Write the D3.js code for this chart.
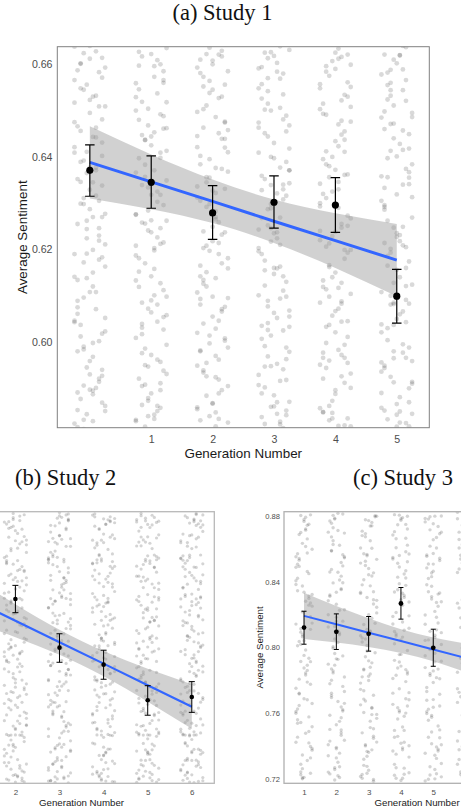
<!DOCTYPE html>
<html>
<head>
<meta charset="utf-8">
<script src="https://cdn.jsdelivr.net/npm/d3@7"></script>
<style>
  html, body { margin: 0; padding: 0; background: #fff; overflow: hidden; }
  svg { display: block; }
</style>
</head>
<body>
<svg id="fig" width="461" height="811"></svg>
<script>
// ---------------- Study 1 ----------------
const gensA   = [0, 1, 2, 3, 4, 5];
const meanA   = [0.6371, 0.6345, 0.6279, 0.6302, 0.6296, 0.6099];
const lowA    = [0.6315, 0.6289, 0.6222, 0.6246, 0.6237, 0.6041];
const highA   = [0.6426, 0.6402, 0.6338, 0.6359, 0.6355, 0.6157];
const fitA    = [0.6388, 0.6346, 0.6304, 0.6261, 0.6219, 0.6177];
const fitLoA  = [0.6310, 0.6287, 0.6257, 0.6214, 0.6160, 0.6099];
const fitHiA  = [0.6466, 0.6405, 0.6351, 0.6308, 0.6278, 0.6255];
const xTicksA = [1, 2, 3, 4, 5];
const yTicksA = [0.60, 0.62, 0.64, 0.66];
// individual responses per generation: jitter letter (g = centre, 0.05 per step) + sentiment x 10^4
const rawA = [
  "g6612 c6587 k6431 e6298 h6150 b6043 j5921 d5877 i6532 f6365 l6211 c6089 h5968 e5832 k6614 b6475 g6329 j6178 d6012 i5901 f6556 k6402 c6255 h6120 e5990 l5851 b6638 g6495 d6346 j6230 i6071 f5945 c5816 k6571 h6443 e6311 b6190 l6052 g5930 d6601 j6509 i6377 f6262 c6134 k6018 h5887 e6545 b6421 g6287 l6163 d6037 j5914 f5844 i6628 c6466 k6338 h6199 e6096 g5959 b5824 l6593 d6456 j6305 f6244 i6108 c5980 k5869 g6523 e6392 h6270 " +
  "j6583 d6548 b6409 i6371 f6224 k6183 c6061 h5998 e5906 l5862 g6640 b6517 i6442 d6299 k6270 f6138 j6002 c5891 h5829 e6624 l6509 g6377 c6352 j6219 e6172 b6046 k5927 h5895 d6602 i6463 f6411 l6277 b6141 g6108 e5984 k5940 c5853 j6656 h6530 d6389 i6316 f6191 c6075 l6023 g5897 e5812 b6566 k6481 h6345 j6246",
  "h6644 d6519 j6398 b6276 g6142 k6027 e5908 i5851 c6597 l6462 f6334 h6203 d6085 j5957 b5829 g6622 k6488 e6357 i6226 c6119 l5994 f5873 h6573 d6447 j6318 b6187 g6064 k5938 e5817 i6609 c6480 l6349 f6241 h6101 d5976 j5858 b6559 g6425 k6296 e6170 i6044 c5921 l6635 f6504 h6371 d6258 j6127 b6009 g5889 k6585 e6436 i6303 c6181 l6058 f5947 h5834 d6617 j6492 b6366 g6237 k6112 e5986 i5862 c6546 l6413 f6284 h6158 d6031 j5911 b6529 " +
  "c6627 k6560 e6437 j6409 g6263 b6208 l6098 d6039 i5962 f5879 h5843 e6651 b6500 k6461 g6318 j6246 c6152 f6072 l5931 d5905 h6596 i6537 e6383 b6275 k6215 g6090 d6017 j5896 f5840 c6655 l6518 h6453 i6325 e6256 b6133 k6054 g5972 d5864 j6600 f6468 c6397 l6262 h6198 i6081 e5950 b5832 k6566 g6444 d6339 j6212",
  "f6651 j6530 c6402 h6283 l6159 d6040 i5919 b5855 g6608 k6474 e6345 i6214 c6093 h5970 f5840 j6629 b6497 l6368 g6249 d6126 k6003 e5884 c6581 i6451 h6322 f6197 j6071 b5949 l5826 g6600 d6463 k6331 e6208 c6081 i5962 h5848 f6564 j6439 b6312 l6181 g6055 d5934 k6643 e6511 c6384 i6259 h6138 f6014 j5896 b6593 l6458 g6327 d6203 k6076 e5955 c5831 i6621 h6486 f6355 j6232 b6107 l5988 g5868 d6552 k6420 e6292 c6165 i6046 h5924 f6538 " +
  "e6622 k6556 b6421 h6376 d6239 j6170 g6098 c5982 l5905 i5834 f6636 d6503 k6439 b6336 h6270 e6151 j6066 c5980 g5867 l6585 i6527 f6395 c6305 k6237 e6120 h6029 d5939 b5859 j6617 g6545 l6410 f6298 i6190 c6142 k6008 e5926 h5818 d6573 b6445 j6374 g6218 l6095 f5997 i5889 c6610 k6476 e6356 h6265 d6134 b6020",
  "i6639 e6515 k6389 c6268 g6147 j6025 d5902 h5845 b6591 l6468 f6339 i6210 e6089 k5963 c5838 g6618 j6481 d6352 h6224 b6101 l5979 f5860 i6569 e6444 k6316 c6190 g6063 j5941 d5823 h6603 b6474 l6343 f6217 i6094 e5969 k5852 c6557 g6430 j6308 d6176 h6052 b5929 l6631 f6500 i6377 e6252 k6130 c6007 g5885 j6580 d6451 h6321 b6196 l6068 f5948 i5828 e6613 k6489 c6359 g6235 j6111 d5991 h5870 b6548 l6418 f6289 i6163 e6041 k5918 c6526 " +
  "d6625 j6535 f6400 l6371 b6243 h6159 e6077 k5988 c5889 i5822 g6650 e6542 b6409 j6330 f6246 d6122 l6055 h5953 k5842 c6594 i6506 g6397 e6287 b6203 j6142 f6014 d5947 l5871 h6584 k6455 c6328 i6269 g6160 e6026 b5907 j5814 f6626 d6502 l6371 h6237 k6098 c6035 i5916 g5861 e6570 b6463 j6340 f6298 d6155 l6033",
  "e6648 i6522 c6395 k6273 g6150 d6033 j5912 f5847 l6599 h6470 b6342 e6213 i6088 c5966 k5835 g6625 d6491 j6361 f6229 l6104 h5983 b5857 e6575 i6448 c6320 k6193 g6067 d5944 j5820 f6607 l6476 h6346 b6220 e6098 i5972 c5849 k6561 g6434 d6311 j6180 f6057 l5932 h6634 b6503 e6380 i6255 c6133 k6011 g5888 d6584 j6455 f6325 l6199 h6072 b5951 e5831 i6616 c6493 k6362 g6238 d6114 j5994 f5873 l6551 h6423 b6293 e6166 i6044 c5921 k6530 " +
  "h6612 b6557 j6411 d6384 i6247 e6162 k6045 c5977 g5896 l5818 f6643 j6534 d6412 h6290 b6240 i6128 e6037 k5955 c5848 g6590 l6508 f6400 b6300 j6199 h6117 d5998 i5926 e5862 k6621 c6515 g6372 l6267 f6140 b6085 j5966 h5819 d6596 i6478 e6356 k6251 c6119 g6021 l5901 f5835 b6548 j6437 h6330 d6206 i6083 e5960",
  "j6637 f6511 l6384 d6262 h6140 b6021 k5900 g5843 e6588 i6457 c6333 j6205 f6082 l5959 d5833 h6619 b6485 k6355 g6227 e6100 i5977 c5852 j6566 f6440 l6313 d6186 h6060 b5936 k5818 g6602 e6471 i6340 c6214 j6091 f5965 l5845 d6555 h6428 b6305 k6174 g6050 e5925 i6640 c6498 j6374 f6247 l6124 d6004 h5881 b6578 k6449 g6319 e6193 i6066 c5944 j5825 f6610 l6486 d6356 h6231 b6108 k5988 g5866 e6544 i6415 c6286 j6160 f6037 l5914 d6524 " +
  "c6621 i6544 e6413 k6367 g6235 d6165 j6043 f5980 b5890 h5826 l6649 e6532 k6418 c6296 i6249 f6128 b6038 j5966 h5850 d6582 l6495 g6401 c6292 e6201 k6083 i5995 f5913 b5858 h6620 j6521 d6397 l6269 g6156 e6081 c5949 k5870 i6589 f6472 b6358 h6218 j6121 d6030 l5910 g5817 e6560 c6460 k6341 i6209 f6085 b5956"
];

// ---------------- Study 2 ----------------
const gensB   = [1, 2, 3, 4, 5, 6];
const meanB   = [0.7250, 0.7286, 0.6999, 0.6899, 0.6689, 0.6708];
const lowB    = [0.7170, 0.7205, 0.6913, 0.6813, 0.6601, 0.6618];
const highB   = [0.7330, 0.7366, 0.7081, 0.6984, 0.6775, 0.6799];
const fitB    = [0.7285, 0.7158, 0.7031, 0.6905, 0.6778, 0.6651];
const fitLoB  = [0.7153, 0.7061, 0.6957, 0.6831, 0.6681, 0.6522];
const fitHiB  = [0.7418, 0.7255, 0.7105, 0.6979, 0.6875, 0.6784];
const xTicksB = [1, 2, 3, 4, 5, 6];
const yTicksB = [0.64, 0.68, 0.72, 0.76];
const rawB = [
  "e7712 i7388 c7051 k6724 g6402 d6250 j7590 f7233 h6911 b6588 l7470 e7120 i6805 c6466 k7760 g7305 d6990 j6650 f6311 h7540",
  "d7741 h7512 b7290 k7055 f6822 i6598 c6377 j6231 g7688 e7433 l7169 b6947 h6705 d6481 k6266 f7790 i7356 c7102 j6889 e6633 g6412 l7605 b7378 h7214 d6990 k6751 f6537 i6305 c7727 j7477 e7260 g7011 l6786 b6569 h6340 d6219 k7654 f7399 i7133 c6918 j6677 e6455 g6251 l7560 b7320 h7088 d6857 k6620 f6391 i7774 c7538 j7281 e7046 g6813 l6583 b6361 h6238 d7702 k7455 f7197 i6968 c6729 j6502 e6283 g7629 l7411 b7157 h6931 d6694 k6470 f6247 i7748 c7494 j7233 e6999 g6766 l6545 b6322 h7672 d7424 k7176 f6955 i6715 c6488 j6273 e7583 g7345 l7118 b6874 h6647 d6425 k6208 f7715 i7460 c7222 j6977 e6740 g6517 e6484 g6485 i6484 " +
  "f7765 j7623 c7501 h7389 e7268 k7140 d7022 i6904 b6777 g6661 l6540 f6419 c6302 j6216 e7708 h7585 k7447 d7326 g7201 b7082 i6963 f6846 l6724 c6603 j6482 e6355 h6244 k7782 d7650 b7530 g7412 i7290 f7167 l7048 c6926 j6808 e6686 h6567 k6446 d6322 g6207 b7739 i7611 f7491 l7369 c7250 j7128 e7004 h6885 k6763 d6645 g6524 b6400 i6289 f7754 l7633 c7512 j7393 e7275 h7149 k7031 d6913 g6792 b6670 i6552 f6430 l6313 c6225 j7697 e7570 h7453 k7334 d7212 g7093 b6974 i6857 f6735 l6612",
  "g7795 c7561 i7340 e7102 k6871 b6650 h6413 f6226 j7703 d7488 l7252 c7020 g6799 i6564 e6327 k7746 b7520 h7295 f7063 j6837 d6604 l6388 c6214 g7661 i7409 e7187 k6951 b6722 h6496 f6269 j7781 d7547 l7318 c7084 g6860 i6622 e6402 k6243 b7624 h7369 f7140 j6906 d6678 l6450 c6217 g7734 i7505 e7273 k7037 b6811 h6588 f6351 j7596 d7340 l7110 c6893 g6657 i6429 e6205 k7757 b7528 h7304 f7072 j6847 d6613 l6395 c7680 g7447 i7201 e6979 k6746 b6521 h6292 f7610 j7383 d7146 l6925 c6689 g6468 i6236 e7717 k7469 b7235 h6998 f6770 j6541 d6312 l7641 c7425 g7190 i6963 e6733 k6506 b6277 h7767 f7531 j7289 d7051 f6336 h6335 " +
  "k7751 e7620 b7499 i7377 d7256 l7130 g7013 c6894 h6772 f6650 j6531 e6410 b6292 k6203 g7775 d7643 i7519 c7396 l7283 f7161 h7040 b6918 j6797 e6676 k6555 g6432 d6315 i6228 c7720 l7596 f7477 h7355 b7233 j7112 e6990 k6870 g6747 d6626 i6507 c6384 l6261 f7762 h7637 b7515 j7396 e7274 k7150 g7029 d6908 i6785 c6664 l6545 f6423 h6300 b6213 j7694 e7568 k7441 g7322 d7203 i7080 c6960 l6838 f6718 h6596 b6476 j6357 e6238 k7787 g7658 d7535 i7412 c7288 l7170 f7045 h6925 b6804 j6681",
  "j7770 e7548 b7318 h7079 l6858 d6629 i6401 f6218 c7715 k7466 g7241 e7009 j6784 b6556 h6322 l7735 d7499 i7270 f7043 c6809 k6580 g6363 e6247 j7650 b7421 h7182 l6947 d6720 i6488 f6259 c7788 k7551 g7307 e7075 j6845 b6611 h6379 l6209 d7617 i7384 f7160 c6926 k6699 g6471 e6238 j7741 b7493 h7262 l7030 d6802 i6575 f6340 c7587 k7356 g7127 e6886 j6662 b6437 h6213 l7760 d7517 i7289 f7056 c6827 k6597 g6366 e7695 j7439 b7208 h6970 l6739 d6516 i6285 f7632 c7399 k7168 g6939 e6708 j6483 b6254 h7725 l7478 d7244 i7011 f6793 c6559 k6331 g7668 e7434 j7195 b6952 h6728 l6499 d6270 i7752 f7509 d6485 f6484 " +
  "g7758 b7632 k7506 e7380 i7264 c7137 l7018 f6897 h6775 d6652 j6534 g6413 b6297 k6210 e7701 i7578 c7456 l7330 f7212 h7088 d6970 j6848 g6727 b6603 k6481 e6364 i6240 c7770 l7641 f7522 h7403 d7281 j7160 g7038 b6919 k6796 e6676 i6555 c6432 l6316 f6226 h7727 d7603 j7478 g7359 b7234 k7114 e6993 i6871 c6750 l6628 f6508 h6384 d6260 j7746 g7618 b7497 k7375 e7252 i7133 c7010 l6888 f6766 h6645 d6523 j6402 g6281 b7780 k7663 e7541 i7419 c7297 l7175 f7055 h6932 d6810 j6690",
  "f7762 k7536 c7301 i7068 e6842 l6617 b6390 h6232 d7708 j7471 g7233 c6995 k6768 e6540 i6318 b7740 f7508 l7280 h7049 d6821 j6599 g6371 c6224 k7645 e7415 i7177 b6950 f6713 l6492 h6264 d7776 j7545 g7312 c7083 k6853 e6628 i6397 b6206 f7621 l7379 h7151 d6917 j6686 g6462 c6230 k7737 e7489 i7267 b7027 f6798 l6573 h6339 d7599 j7352 g7120 c6887 k6659 e6435 i6216 b7753 f7520 l7294 h7060 d6834 j6607 g6385 c7686 k7444 e7205 i6973 b6747 f6512 l6289 h7614 d7390 j7161 g6933 c6700 k6477 e6242 i7722 b7479 f7226 l6992 h6768 d6536 j6306 g7652 c7420 k7181 e6955 i6725 b6501 f6271 l7744 h7511 c6485 e6484 g6485 h6484 d6336 f6335 " +
  "i7779 d7651 l7527 g7403 b7281 j7158 e7037 k6918 f6794 c6673 h6553 i6431 d6310 l6222 g7725 b7598 j7474 e7353 k7228 f7110 c6989 h6866 i6745 d6623 l6502 g6381 b6259 j7766 e7634 k7517 f7393 c7271 h7150 i7030 d6907 l6786 g6665 b6545 j6421 e6303 k6207 f7746 c7621 h7495 i7374 d7249 l7127 g7003 b6880 j6760 e6641 k6520 f6397 c6278 h7707 i7583 d7462 l7342 g7219 b7100 j6979 e6856 k6735 f6613 c6493 h6371 i6252 d7790 l7664 g7540 b7420 j7299 e7174 k7055 f6935 c6814 h6693 i6570",
  "l7781 f7544 d7312 j7080 h6848 b6618 k6394 e6229 i7719 c7475 g7247 l7014 f6789 d6558 j6326 h7751 b7524 k7292 e7066 i6830 c6602 g6380 l6215 f7659 d7418 j7190 h6956 b6726 k6497 e6266 i7783 c7540 g7315 l7087 f6858 d6625 j6401 h6204 b7629 k7376 e7145 i6911 c6684 g6458 l6234 f7733 d7497 j7265 h7034 b6806 k6579 e6347 i7592 c7355 g7124 l6890 f6664 d6440 j6211 h7757 b7527 k7299 e7070 i6838 c6610 g6388 l7684 f7442 d7209 j6976 h6744 b6519 k6293 e7618 i7393 c7157 g6936 l6705 f6479 d6248 j7729 h7474 b7239 k7000 e6771 i6540 c6309 g7663 l7428 f7192 d6958 j6730 h6503 b6274 k7746 e7512 i7286 c6485 d6484 f6485 h6484 i6485 d6335 e6336 g6335 i6336 " +
  "e7765 i7640 c7514 k7390 g7270 d7146 j7027 f6905 h6783 b6661 l6544 e6420 i6301 c6218 k7708 g7583 d7461 j7342 f7218 h7097 b6977 l6856 e6735 i6612 c6490 k6371 g6250 d7775 j7650 f7530 h7410 b7286 l7163 e7042 i6920 c6797 k6678 g6554 d6433 j6310 f6207 h7741 b7617 l7493 e7373 i7252 c7129 k7008 g6888 d6765 j6643 f6524 h6400 b6282 l7722 e7597 i7472 c7350 k7232 g7107 d6987 j6866 f6746 h6625 b6503 l6381 e6262 i7790 c7668 k7545 g7425 d7301 j7181 f7060 h6938 b6815 l6694 e6571"
];

// ---------------- Study 3 ----------------
const gensC   = [1, 2, 3, 4, 5, 6, 7, 8];
const meanC   = [0.8121, 0.8095, 0.8083, 0.8267, 0.7998, 0.7930, 0.7885, 0.7840];
const lowC    = [0.8020, 0.7988, 0.7978, 0.8172, 0.7886, 0.7825, 0.7780, 0.7730];
const highC   = [0.8220, 0.8204, 0.8188, 0.8364, 0.8111, 0.8035, 0.7990, 0.7950];
const fitC    = [0.8192, 0.8141, 0.8090, 0.8039, 0.7988, 0.7937, 0.7886, 0.7835];
const fitLoC  = [0.8052, 0.8030, 0.8003, 0.7967, 0.7916, 0.7850, 0.7775, 0.7695];
const fitHiC  = [0.8332, 0.8252, 0.8177, 0.8111, 0.8060, 0.8024, 0.7997, 0.7975];
const xTicksC = [1, 2, 3, 4, 5, 6, 7, 8];
const yTicksC = [0.72, 0.76, 0.80, 0.84, 0.88];
const rawC = [
  "e8801 i8573 c8344 k8110 g7876 d7648 j7421 f7203 h8712 b8487 l8251 e8019 i7790 c7562 k7330 g8765 d8530 j8298 f8065 h7833 b7601 l7377 e7228 i8659 c8420 k8187 g7952 d7718 j7490 f7265 h8790 b8551 l8322 e8093 i7861 c7627 k7399 g7212 d8686 j8448 f8216 h7985 b7753 l7519 e7292 i8742 c8505 k8270 g8041 d7808 j7579 f7348 h8613 b8382 l8148 e7915 i7683 c7456 k7237 g8777 d8540 j8312 f8077 h7846 b7612 l7387 e8698 i8461 " +
  "j8748 f8632 b8405 h8281 d8036 k7914 g7689 c7540 i7314 e7245 l8596 f8373 b8142 j7935 d7722 h7480 k8805 c8569 g8336 e8114 i7892 l7660 b7425 f7210 h8720 d8492 j8257 c8011 k7777 e7545",
  "h8815 d8589 j8357 b8124 f7893 l7661 c7432 i7211 e8727 k8495 g8262 h8030 d7801 j7574 b7343 f8779 l8544 c8311 i8077 e7846 k7615 g7386 h7222 d8671 j8433 b8199 f7964 l7733 c7503 i7276 e8802 k8563 g8335 h8101 d7870 j7639 b7410 f7196 l8694 c8458 i8226 e7995 k7764 g7531 h7304 d8754 j8516 b8284 f8052 l7821 c7589 i7359 e8625 k8393 g8160 h7928 d7696 j7468 b7244 f8785 l8551 c8319 i8088 e7857 k7623 g7394 h8710 d8474 " +
  "c8768 i8620 e8392 k8160 g7931 d7708 j7483 f7260 b8700 h8457 l8229 e8005 c7780 i7552 g7330 k8810 d8585 j8351 f8128 b7899 h7672 l7437 c7233 e8648 i8410 g8183 k7949 d7722 j7499 f7271",
  "k8793 f8565 b8335 h8101 d7869 i7636 e7410 j7199 c8706 g8479 l8244 f8012 b7784 h7553 d7322 i8759 e8523 j8290 c8058 g7826 l7594 f7370 b7218 h8648 d8411 i8178 e7944 j7710 c7482 g7255 l8797 f8557 b8327 h8096 d7864 i7631 e7403 j7188 c8679 g8441 l8210 f7979 b7746 h7514 d7285 i8738 e8498 j8264 c8033 g7800 l7570 f7340 b8604 h8374 d8140 i7907 e7675 j7449 c7229 g8770 l8535 f8303 b8071 h7839 d7606 i7379 e8691 j8453 " +
  "e8775 i8602 c8380 k8147 g7919 d7687 j7462 f7237 h8737 b8512 l8286 e8052 c7822 i7593 g7364 k8800 d8569 j8338 f8110 h7880 b7652 l7426 c7207 e8672 i8434 g8199 k7968 d7738 j7507 f7279",
  "c8806 j8581 e8350 l8117 g7887 b7655 i7425 d7207 k8719 f8488 h8256 c8023 j7793 e7566 l7335 g8772 b8537 i8304 d8070 k7839 f7608 h7380 c7225 j8663 e8427 l8192 g7958 b7723 i7497 d7270 k8796 f8558 h8329 c8097 j7866 e7634 l7404 g7193 b8683 i8446 d8212 k7982 f7750 h7518 c7291 j8747 e8511 l8276 g8046 b7812 i7583 d7353 k8621 f8387 h8155 c7922 j7689 e7461 l7240 g8781 b8546 i8316 d8082 k7851 f7618 h7391 c8703 j8466 " +
  "h8788 d8605 j8377 b8143 f7912 l7683 c7455 i7231 e8745 k8520 g8290 h8063 d7832 j7602 b7372 f8803 l8567 c8337 i8105 e7876 k7645 g7419 h7207 d8660 j8422 b8188 f7957 l7726 c7497 i7268",
  "l8798 g8570 d8338 i8107 b7878 k7645 f7416 h7203 e8714 c8483 j8250 l8018 g7788 d7559 i7327 b8762 k8528 f8294 h8061 e7830 c7599 j7372 l7215 g8654 d8419 i8184 b7950 k7716 f7487 h7260 e8793 c8553 j8324 l8090 g7858 d7626 i7397 b7190 k8690 f8452 h8219 e7987 c7757 j7524 l7296 g8751 d8507 i8273 b8043 k7810 f7577 h7346 e8615 c8381 j8149 l7917 g7684 d7455 i7234 b8783 k8542 f8309 h8074 e7842 c7611 j7383 l8700 g8463 " +
  "d8779 i8604 f8372 b8141 h7913 c7680 k7452 e7226 j8734 g8506 l8278 d8046 i7817 f7588 b7358 h8797 c8562 k8331 e8098 j7869 g7637 l7410 d7201 i8667 f8430 b8197 h7965 c7733 k7500 e7276",
  "b8781 e8512 c8240 f7968 d7701 b7433 e7218 c8655 f8390 d8122 b7850 e7589 c7320 f8804 d8537 b8269 e7997 c7728 f7461 d7245 h8701 j8430 g8166 k7893 i7620 l7352 h8588 j8311 g8050 k7784 i7507 b7292 e8742 c8476 f8205 d7935 b7667 e7399 c8604 f8331 " +
  "c8700 b8455 d8180 e7905 f7640 c7380 b8820 d8560 e8290 f8010 b7750 c7490 d7230 e8625 f8365",
  "d8760 h8421 f8090 j7754 e7420 i8630 c8288 k7951 g7612 b7287 l8517 d8180 h7843 f7501 j8702",
  "e8790 i8455 c8118 k7780 g7446 d7229 j8650 f8311 h7976 b7640 l7309 e8560 i8221 c7888 g7554"
];

// ---------------- drawing ----------------
const W = 461, H = 811;
const svg = d3.select("#fig");
const SANS = "'Liberation Sans', Arial, Helvetica, sans-serif";
const SERIF = "'Liberation Serif', 'Times New Roman', serif";

function parseRaw(strings, gens) {
  const pts = [];
  strings.forEach((s, i) => {
    s.trim().split(/\s+/).forEach(tok => {
      pts.push({ g: gens[i] + (tok.charCodeAt(0) - 103) * 0.05, v: +tok.slice(1) / 10000 });
    });
  });
  return pts;
}

function panel(o) {
  const x = d3.scaleLinear().domain(o.xDomain).range([o.left, o.right]);
  const y = d3.scaleLinear().domain(o.yDomain).range([o.bottom, o.top]);
  const clipId = "clip-" + o.name;
  svg.append("clipPath").attr("id", clipId).append("rect")
    .attr("x", o.left).attr("y", o.top)
    .attr("width", o.right - o.left).attr("height", o.bottom - o.top);
  const g = svg.append("g").attr("clip-path", `url(#${clipId})`);

  // jittered individual responses
  g.append("g").selectAll("circle").data(parseRaw(o.raw, o.gens)).join("circle")
    .attr("cx", d => x(d.g)).attr("cy", d => y(d.v)).attr("r", o.dotR)
    .attr("fill", "#000").attr("fill-opacity", o.dotAlpha);

  // linear fit with confidence band
  const fit = o.gens.map((gg, i) => ({ g: gg, f: o.fit[i], lo: o.fitLo[i], hi: o.fitHi[i] }));
  g.append("path").datum(fit)
    .attr("d", d3.area().x(d => x(d.g)).y0(d => y(d.lo)).y1(d => y(d.hi)).curve(d3.curveNatural))
    .attr("fill", "#999").attr("fill-opacity", 0.45);
  g.append("path").datum(fit)
    .attr("d", d3.line().x(d => x(d.g)).y(d => y(d.f)))
    .attr("fill", "none").attr("stroke", "#3366FF").attr("stroke-width", o.lineW);

  // generation means with error bars
  const m = o.gens.map((gg, i) => ({ g: gg, m: o.mean[i], lo: o.low[i], hi: o.high[i] }));
  g.append("g").attr("stroke", "#000").attr("stroke-width", o.ebW).attr("fill", "none")
    .selectAll("path").data(m).join("path")
    .attr("d", d => {
      const cx = x(d.g), w = o.capW / 2, y1 = y(d.hi), y2 = y(d.lo);
      return `M${cx - w},${y1}H${cx + w}M${cx},${y1}V${y2}M${cx - w},${y2}H${cx + w}`;
    });
  g.append("g").selectAll("circle").data(m).join("circle")
    .attr("cx", d => x(d.g)).attr("cy", d => y(d.m)).attr("r", o.meanR).attr("fill", "#000");

  // panel border
  svg.append("rect").attr("x", o.left).attr("y", o.top)
    .attr("width", o.right - o.left).attr("height", o.bottom - o.top)
    .attr("fill", "none").attr("stroke", o.frameColor).attr("stroke-width", o.frameW);

  // axes (only the labels that fall inside the page are drawn)
  const xt = o.xTicks.filter(t => x(t) > 4 && x(t) < W - 4);
  const ax = svg.append("g").attr("transform", `translate(0,${o.bottom})`)
    .call(d3.axisBottom(x).tickValues(xt).tickSize(0).tickPadding(o.xPad).tickFormat(d3.format("d")));
  ax.select(".domain").remove();
  ax.selectAll("text").attr("fill", "#4d4d4d").style("font-family", SANS).style("font-size", o.tickFont + "px");

  svg.append("text").attr("x", (o.left + o.right) / 2).attr("y", o.xTitleY)
    .attr("text-anchor", "middle").attr("fill", "#1a1a1a")
    .style("font-family", SANS).style("font-size", o.titleFont + "px")
    .text("Generation Number");

  if (o.left > 0) {
    const ay = svg.append("g").attr("transform", `translate(${o.left},0)`)
      .call(d3.axisLeft(y).tickValues(o.yTicks).tickSize(0).tickPadding(o.yPad).tickFormat(d3.format(".2f")));
    ay.select(".domain").remove();
    ay.selectAll("text").attr("fill", "#4d4d4d").style("font-family", SANS).style("font-size", o.yTickFont + "px");
    svg.append("text")
      .attr("transform", `translate(${o.yTitleX},${(o.top + o.bottom) / 2}) rotate(-90)`)
      .attr("text-anchor", "middle").attr("fill", "#1a1a1a")
      .style("font-family", SANS).style("font-size", o.titleFont + "px")
      .text("Average Sentiment");
  }
}

panel({
  name: "a", gens: gensA, raw: rawA, mean: meanA, low: lowA, high: highA,
  fit: fitA, fitLo: fitLoA, fitHi: fitHiA, xTicks: xTicksA, yTicks: yTicksA,
  xDomain: [-0.53, 5.53], yDomain: [0.5815, 0.6638],
  left: 57.3, right: 429.3, top: 46.7, bottom: 427.7,
  dotR: 2.4, dotAlpha: 0.15, lineW: 3, ebW: 1.2, capW: 9.5, meanR: 3.6,
  frameColor: "#808080", frameW: 1,
  tickFont: 10.6, yTickFont: 10.6, xPad: 7.6, yPad: 4.8,
  titleFont: 13.4, xTitleY: 458, yTitleX: 26.5
});

panel({
  name: "b", gens: gensB, raw: rawB, mean: meanB, low: lowB, high: highB,
  fit: fitB, fitLo: fitLoB, fitHi: fitHiB, xTicks: xTicksB, yTicks: yTicksB,
  xDomain: [0.49, 6.51], yDomain: [0.62, 0.78],
  left: -51.2, right: 214.3, top: 511.7, bottom: 783.3,
  dotR: 1.6, dotAlpha: 0.17, lineW: 2.2, ebW: 1, capW: 6, meanR: 2.3,
  frameColor: "#b8b8b8", frameW: 1.3,
  tickFont: 8, yTickFont: 7.6, xPad: 5.6, yPad: 4,
  titleFont: 9.7, xTitleY: 806.2, yTitleX: -80
});

panel({
  name: "c", gens: gensC, raw: rawC, mean: meanC, low: lowC, high: highC,
  fit: fitC, fitLo: fitLoC, fitHi: fitHiC, xTicks: xTicksC, yTicks: yTicksC,
  xDomain: [0.38, 8.62], yDomain: [0.7176, 0.8824],
  left: 284, right: 550.2, top: 511.7, bottom: 783.3,
  dotR: 1.7, dotAlpha: 0.17, lineW: 2, ebW: 1, capW: 5, meanR: 2.4,
  frameColor: "#b0b0b0", frameW: 1.3,
  tickFont: 8, yTickFont: 7.6, xPad: 5.6, yPad: 4,
  titleFont: 9.7, xTitleY: 806.2, yTitleX: 263
});

// sub-figure captions
const caps = [
  { t: "(a) Study 1", x: 222.5, anchor: "middle", y: 20 },
  { t: "(b) Study 2", x: 15, anchor: "start", y: 485 },
  { t: "(c) Study 3", x: 453, anchor: "end", y: 485 }
];
svg.selectAll("text.cap").data(caps).join("text").attr("class", "cap")
  .attr("x", d => d.x).attr("y", d => d.y).attr("text-anchor", d => d.anchor)
  .attr("fill", "#111").style("font-family", SERIF).style("font-size", "22.5px")
  .text(d => d.t);
</script>
</body>
</html>
